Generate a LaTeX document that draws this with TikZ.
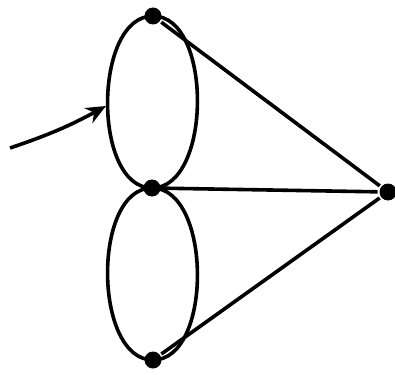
\documentclass[tikz,border=0pt]{standalone}
\usetikzlibrary{arrows.meta}

\begin{document}
\begin{tikzpicture}[x=1pt, y=-1pt, line width=3.6pt, dot/.style={circle, fill=black, inner sep=0pt, minimum size=17pt}, loopL/.style={out=180, in=180, looseness=0.89}, loopR/.style={out=0, in=0, looseness=0.89}]
	\useasboundingbox (0,0) rectangle (395,374);
	\node[dot] (top) at (153,16) {};
	\node[dot] (mid) at (152,188) {};
	\node[dot] (bot) at (153,360) {};
	\node[dot] (rt) at (388,192) {};
	\coordinate (tail) at (10,148);
	\coordinate (tip) at (106,106);
	\draw (top.center) to[loopL] (mid.center);
	\draw (top.center) to[loopR] (mid.center);
	\draw (mid.center) to[loopL] (bot.center);
	\draw (mid.center) to[loopR] (bot.center);
	\draw (top) -- (rt);
	\draw (mid) -- (rt);
	\draw (bot) -- (rt);
	\draw[-{Stealth[length=20pt, width=17pt]}] (tail) to[bend right=5] (tip);
\end{tikzpicture}
\end{document}
